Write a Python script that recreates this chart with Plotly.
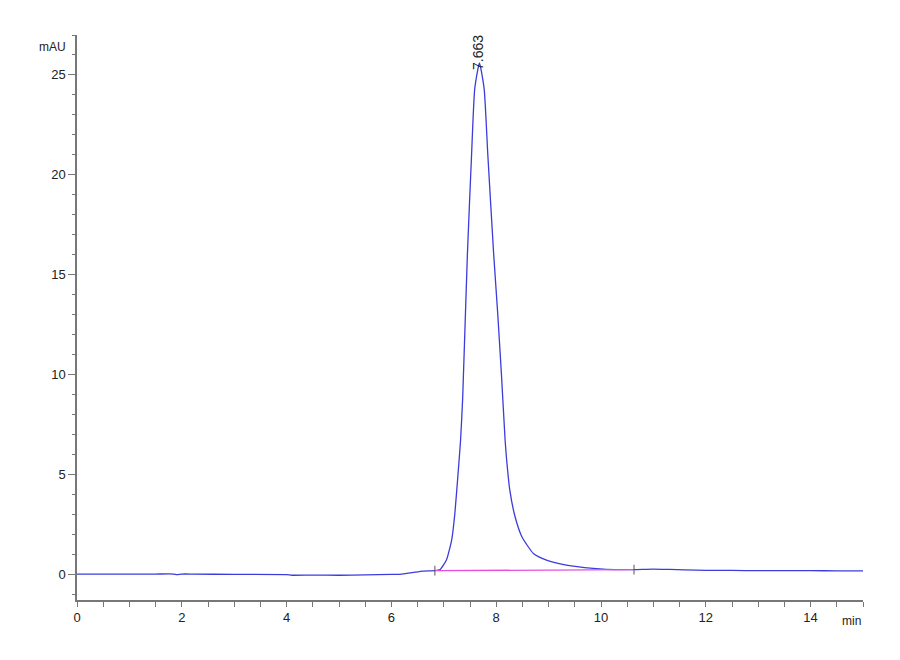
import plotly.graph_objects as go

# Chromatogram trace (time in min, signal in mAU)
time_min = [0.0, 0.5, 1.0, 1.5, 1.85, 1.9, 2.0, 2.2, 3.0, 4.0, 4.1, 4.5, 5.0, 5.5,
            6.0, 6.2, 6.4, 6.6, 6.83, 6.93, 7.05, 7.15, 7.21, 7.28, 7.32, 7.36,
            7.45, 7.53, 7.59, 7.68, 7.77, 7.84, 7.95, 8.03, 8.1,
            8.17, 8.2, 8.26, 8.36, 8.49, 8.71, 8.96, 9.34, 9.85, 10.1, 10.4,
            10.63, 11.0, 11.3, 11.6, 12.0, 12.5, 13.0, 13.5, 14.0, 14.5, 15.0]
signal_mau = [0.0, 0.0, 0.0, 0.0, 0.0, -0.03, 0.0, 0.0, -0.02, -0.03, -0.06, -0.05,
              -0.06, -0.04, -0.02, 0.0, 0.07, 0.15, 0.17, 0.23, 0.7, 1.7, 3.0,
              5.3, 6.7, 8.8, 16.0, 21.0, 24.3, 25.6, 24.3, 21.0, 16.1,
              13.0, 10.0, 6.7, 5.7, 4.2, 2.87, 1.87, 1.03, 0.7, 0.45, 0.28, 0.23,
              0.22, 0.22, 0.25, 0.23, 0.21, 0.18, 0.18, 0.17, 0.17, 0.17, 0.16, 0.16]

# Integration baseline of the peak
baseline_t = [6.83, 10.63]
baseline_v = [0.17, 0.22]

peak_rt = 7.663
peak_height = 25.6

font_family = "Liberation Sans Narrow, Liberation Sans, Arial"

fig = go.Figure()
fig.add_trace(go.Scatter(x=time_min, y=signal_mau, mode="lines",
                         line=dict(color="#3c3cdc", width=1.3, shape="spline",
                                   smoothing=0.5),
                         hoverinfo="skip"))
fig.add_trace(go.Scatter(x=baseline_t, y=baseline_v, mode="lines+markers",
                         line=dict(color="#e650dc", width=1.3),
                         marker=dict(symbol="line-ns-open", size=7, color="#555555",
                                     line=dict(color="#555555", width=1)),
                         hoverinfo="skip"))

fig.add_annotation(x=peak_rt, y=peak_height, text=f"{peak_rt:.3f}", textangle=-90,
                   showarrow=False, xanchor="center", yanchor="bottom", yshift=-9,
                   font=dict(family=font_family, size=14, color="#222222"))
fig.add_annotation(xref="paper", x=0, y=26.4, text="mAU", showarrow=False,
                   xanchor="right", xshift=-9,
                   font=dict(family=font_family, size=12, color="#222222"))
fig.add_annotation(x=15, yref="paper", y=0, text="min", showarrow=False,
                   xanchor="right", yanchor="top", yshift=-12,
                   font=dict(family=font_family, size=12, color="#222222"))

axis_style = dict(showgrid=False, zeroline=False, showline=True, linecolor="#777777",
                  linewidth=1.5, ticks="outside", tickcolor="#777777",
                  tickfont=dict(family=font_family, size=13, color="#222222"))

fig.update_xaxes(range=[0, 15], tickvals=[0, 2, 4, 6, 8, 10, 12, 14], ticklen=5,
                 minor=dict(dtick=0.5, ticks="outside", ticklen=5, tickcolor="#777777"),
                 **axis_style)
fig.update_yaxes(range=[-1.3, 27], dtick=5, ticklen=7,
                 minor=dict(dtick=1, ticks="outside", ticklen=3, tickcolor="#777777"),
                 **axis_style)

# the page adds an 8px body margin, so the figure is a little smaller than the window
fig.update_layout(width=884, height=644, showlegend=False,
                  plot_bgcolor="white", paper_bgcolor="white",
                  margin=dict(l=69, r=29, t=27, b=52))

fig.write_html("out.html")
